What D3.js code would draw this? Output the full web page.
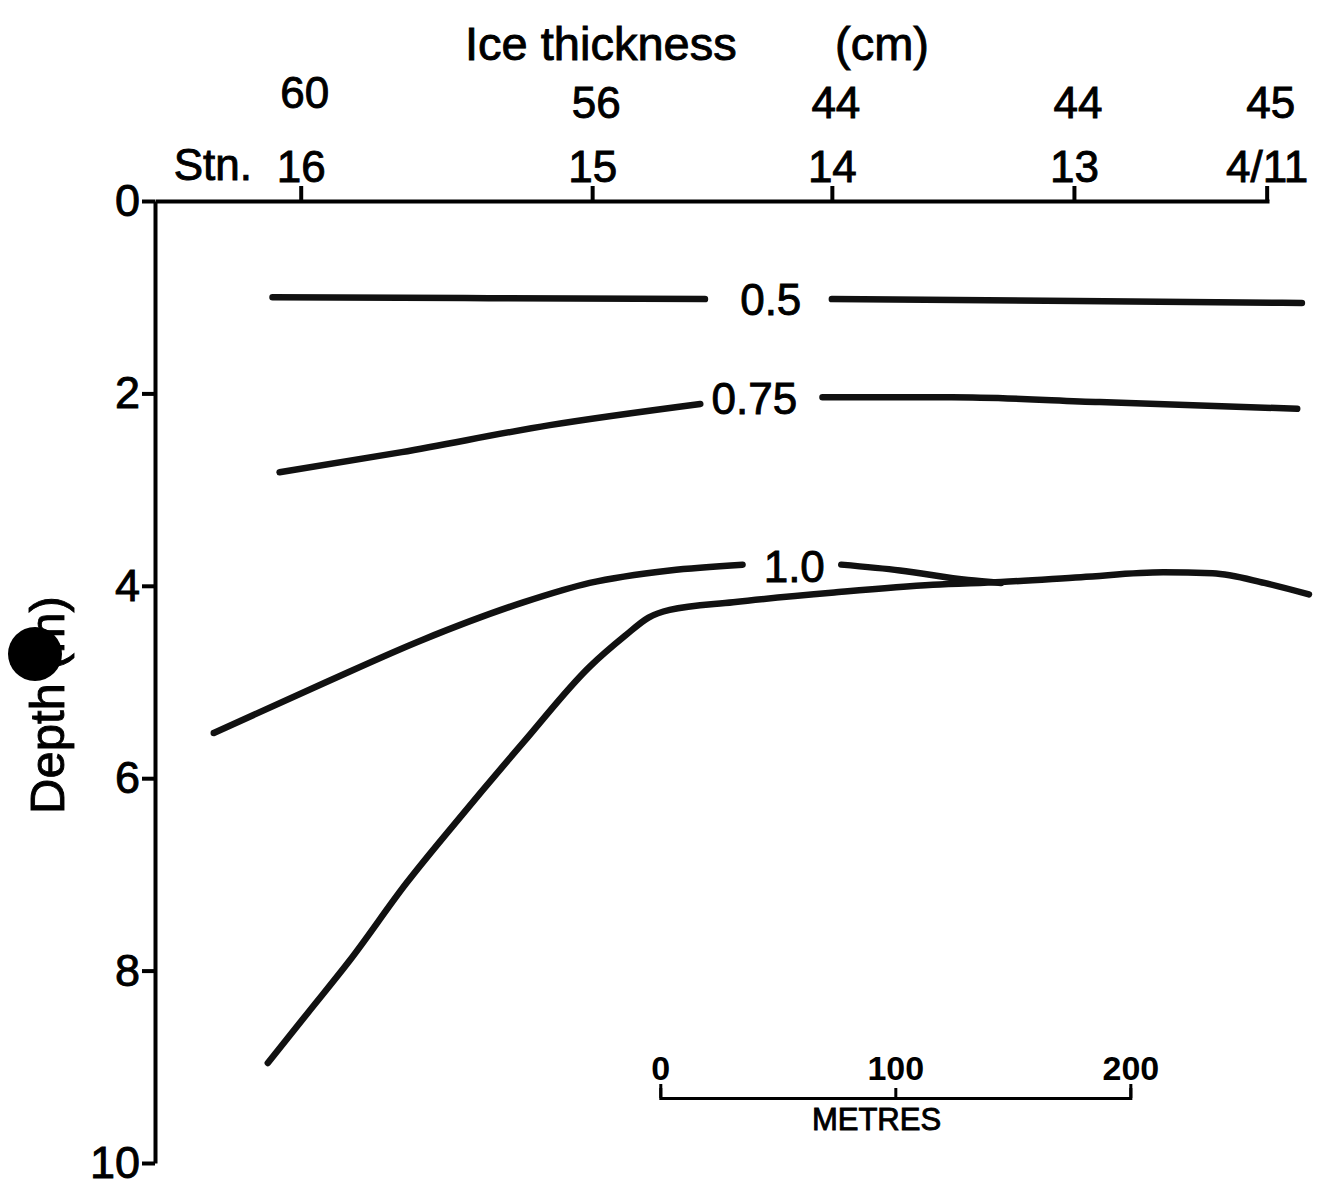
<!DOCTYPE html>
<html>
<head>
  <title>Ice thickness section</title>
  <style>
    body { margin: 0; background: #fff; }
    text { font-family: "Liberation Sans", Arial, sans-serif; fill: #000; stroke: #000; stroke-width: 0.9px; }
    .axis path, .axis line { stroke: #000; stroke-width: 4px; }
    .contour { fill: none; stroke: #111; stroke-width: 6.5px; stroke-linecap: round; stroke-linejoin: round; }
  </style>
</head>
<body>
<script src="https://cdn.jsdelivr.net/npm/d3@7"></script>
<script>
  const width = 1324;
  const height = 1193;

  // stations along the section (distance in metres from stn 16)
  const stations = ["16", "15", "14", "13", "4/11"];
  const stationDist = [0, 124, 226, 329, 411];
  const iceThickness = ["60", "56", "44", "44", "45"];
  const depthTicks = [0, 2, 4, 6, 8, 10];
  const scaleBarTicks = [0, 100, 200];

  // contour lines: [distance (m), depth (m)]
  const iso05Left = [[-12, 1.00], [80, 1.01], [172, 1.02]];
  const iso05Right = [[226, 1.02], [330, 1.04], [426, 1.06]];
  const iso075Left = [[-9, 2.82], [43, 2.61], [106, 2.33], [170, 2.11]];
  const iso075Right = [[222, 2.04], [277, 2.04], [340, 2.09], [424, 2.16]];
  const iso10Left = [[-37, 5.53], [10, 5.01], [52, 4.56], [95, 4.17], [123, 3.97], [157, 3.84], [188, 3.78]];
  const iso10Right = [[230, 3.78], [255, 3.84], [284, 3.94], [298, 3.97]];
  const bottomLine = [[-14, 8.96], [3, 8.44], [21, 7.89], [45, 7.09], [67, 6.43], [95, 5.62],
    [123, 4.84], [138, 4.52], [148, 4.33], [157, 4.25], [184, 4.17], [227, 4.07],
    [269, 3.99], [298, 3.96], [332, 3.91], [367, 3.86], [388, 3.87], [410, 3.97], [429, 4.09]];

  const contourLabels = [
    {text: "0.5", x: 200, d: 1.02},
    {text: "0.75", x: 193, d: 2.05},
    {text: "1.0", x: 210, d: 3.80}
  ];

  const svg = d3.select("body").append("svg")
    .attr("width", width)
    .attr("height", height);

  const x = d3.scaleLinear().domain([-62, 412]).range([155, 1269]);
  const y = d3.scaleLinear().domain([0, 10]).range([201, 1163]);

  const fontFam = "Liberation Sans, Arial, sans-serif";

  // top axis with stations
  svg.append("g")
    .attr("class", "axis")
    .attr("transform", "translate(0," + y(0) + ")")
    .call(d3.axisTop(x)
      .tickValues(stationDist)
      .tickFormat((d, i) => stations[i])
      .tickSizeInner(15)
      .tickSizeOuter(0)
      .tickPadding(4))
    .call(g => g.selectAll("text").attr("font-size", 44).style("font-family", fontFam));

  // ice thickness row
  svg.append("g").selectAll("text")
    .data(iceThickness)
    .enter().append("text")
    .attr("x", (d, i) => x(stationDist[i]) + 4)
    .attr("y", (d, i) => i == 0 ? 108 : 118)
    .attr("text-anchor", "middle")
    .attr("font-size", 44)
    .text(d => d);

  svg.append("text")
    .attr("x", 252).attr("y", 180)
    .attr("text-anchor", "end")
    .attr("font-size", 44)
    .text("Stn.");

  svg.append("text")
    .attr("x", 465).attr("y", 60)
    .attr("font-size", 47)
    .text("Ice thickness");

  svg.append("text")
    .attr("x", 835).attr("y", 60)
    .attr("font-size", 47)
    .text("(cm)");

  // depth axis
  svg.append("g")
    .attr("class", "axis")
    .attr("transform", "translate(" + x(-62) + ",0)")
    .call(d3.axisLeft(y)
      .tickValues(depthTicks)
      .tickSizeInner(13)
      .tickSizeOuter(0)
      .tickPadding(2))
    .call(g => g.selectAll("text").attr("font-size", 45).style("font-family", fontFam));

  svg.append("text")
    .attr("transform", "translate(64,705) rotate(-90)")
    .attr("text-anchor", "middle")
    .attr("font-size", 49)
    .text("Depth (m)");

  // contours
  const line = d3.line()
    .x(d => x(d[0]))
    .y(d => y(d[1]))
    .curve(d3.curveMonotoneX);

  [iso05Left, iso05Right, iso075Left, iso075Right, iso10Left, iso10Right, bottomLine].forEach(pts => {
    svg.append("path")
      .attr("class", "contour")
      .attr("d", line(pts));
  });

  svg.append("g").selectAll("text")
    .data(contourLabels)
    .enter().append("text")
    .attr("x", d => x(d.x))
    .attr("y", d => y(d.d))
    .attr("dy", "0.36em")
    .attr("text-anchor", "middle")
    .attr("font-size", 44)
    .text(d => d.text);

  // scale bar (same metres scale)
  const barOrigin = 153;
  const bar = d3.scaleLinear().domain([0, 200]).range([x(barOrigin), x(barOrigin + 200)]);
  svg.append("g")
    .attr("class", "axis")
    .attr("transform", "translate(0,1098)")
    .call(d3.axisTop(bar)
      .tickValues(scaleBarTicks)
      .tickSizeInner(10)
      .tickSizeOuter(14)
      .tickPadding(8))
    .call(g => g.select(".domain").style("stroke-width", "3px"))
    .call(g => g.selectAll("line").style("stroke-width", "3px"))
    .call(g => g.selectAll("text").attr("font-size", 34).attr("font-weight", "bold")
      .style("font-family", fontFam).style("stroke-width", "0px"));

  svg.append("text")
    .attr("x", bar(92)).attr("y", 1130)
    .attr("text-anchor", "middle")
    .attr("font-size", 31)
    .text("METRES");

  // punched-hole mark on the scan
  svg.append("circle")
    .attr("cx", 35).attr("cy", 654).attr("r", 27)
    .attr("fill", "#000");
</script>
</body>
</html>
